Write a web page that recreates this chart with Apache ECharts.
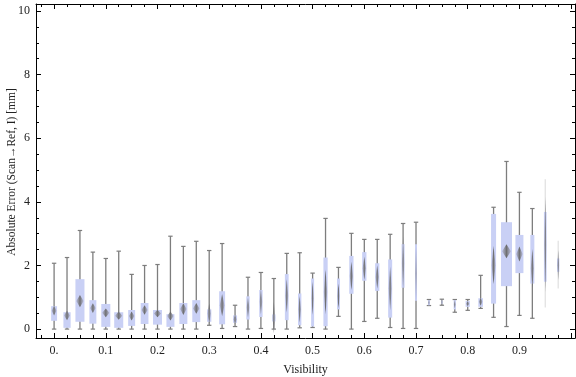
<!DOCTYPE html>
<html><head><meta charset="utf-8">
<script src="https://cdn.jsdelivr.net/npm/echarts@6/dist/echarts.min.js"></script>
<style>html,body{margin:0;padding:0;background:#fff}#c{width:576px;height:377px}</style>
</head><body><div id="c"></div>
<script>
// Bin positions (visibility)
const visibility = [0.000,0.025,0.050,0.075,0.100,0.125,0.150,0.175,0.200,0.225,
                    0.250,0.275,0.300,0.325,0.350,0.375,0.400,0.425,0.450,0.475,
                    0.500,0.525,0.550,0.575,0.600,0.625,0.650,0.675,0.700,0.725,
                    0.750,0.775,0.800,0.825,0.850,0.875,0.900,0.925,0.950,0.975];
const whiskerLow  = [0.00,0.00,0.00,0.00,0.00,0.00,0.00,0.00,0.00,0.00,
                     0.00,0.00,0.12,0.02,0.08,0.00,0.02,0.00,0.00,0.04,
                     0.05,0.00,0.40,0.00,0.24,0.34,0.05,0.02,0.02,0.74,
                     0.75,0.53,0.59,0.65,0.37,0.08,0.43,0.34,0.68,1.28];
const quartile1   = [0.26,0.04,0.23,0.17,0.07,0.04,0.10,0.16,0.14,0.07,
                     0.16,0.22,0.23,0.15,0.20,0.30,0.38,0.24,0.28,0.12,
                     0.08,0.09,0.62,1.11,1.52,1.20,0.36,1.30,0.89,0.75,
                     0.80,0.62,0.70,0.70,0.80,1.35,1.76,1.43,1.49,1.80];
const medians     = [0.58,0.43,0.88,0.66,0.51,0.42,0.41,0.60,0.49,0.41,
                     0.63,0.65,0.49,0.75,0.31,0.68,0.86,0.36,1.05,0.62,
                     0.97,1.17,1.04,1.67,1.91,1.64,1.28,2.07,1.75,0.83,
                     0.85,0.77,0.80,0.86,2.01,2.45,2.36,1.91,2.65,2.01];
const quartile3   = [0.72,0.53,1.57,0.91,0.79,0.53,0.60,0.82,0.60,0.47,
                     0.82,0.91,0.62,1.19,0.43,1.03,1.23,0.46,1.73,1.12,
                     1.59,2.25,1.59,2.30,2.42,2.07,2.19,2.67,2.67,0.91,
                     0.90,0.91,0.88,0.97,3.62,3.36,2.96,2.96,3.68,2.22];
const whiskerHigh = [2.07,2.25,3.10,2.42,2.22,2.45,1.72,2.00,2.03,2.92,
                     2.60,2.76,2.47,2.69,0.75,1.63,1.78,1.59,2.38,2.40,
                     1.76,3.48,1.94,3.01,2.82,2.82,2.98,3.32,3.36,0.93,
                     0.94,0.93,0.93,1.69,3.83,5.27,4.30,3.79,4.71,2.78];
// relative box width (sample weight) as fraction of the bin
const sampleWeight = [0.46,0.56,0.70,0.54,0.70,0.70,0.54,0.60,0.70,0.62,
                      0.62,0.62,0.33,0.46,0.31,0.26,0.26,0.26,0.29,0.26,
                      0.23,0.33,0.23,0.33,0.33,0.33,0.31,0.23,0.15,0.15,
                      0.12,0.18,0.33,0.36,0.39,0.85,0.62,0.31,0.21,0.18];
// median confidence interval height (diamond)
const medianCI = [0.30,0.30,0.38,0.31,0.28,0.26,0.28,0.30,0.23,0.28,
                  0.37,0.34,0.63,0.70,0.30,0.63,0.80,1.00,1.05,0.84,
                  1.05,1.40,0.78,0.90,0.73,0.73,1.36,1.68,1.68,0.15,
                  0.15,0.25,0.15,0.25,1.20,0.44,0.47,1.22,3.00,0.95];
const lowCount = [0,0,0,0,0,0,0,0,0,0, 0,0,0,0,0,0,0,0,0,0,
                  0,0,0,0,0,0,0,0,0,0, 0,0,0,0,0,0,0,0,1,1];
const xTickLabels = ['0.','0.1','0.2','0.3','0.4','0.5','0.6','0.7','0.8','0.9'];
const yTickLabels = ['0','2','4','6','8','10'];
const yTitle = 'Absolute Error (Scan\u2192Ref, I) [mm]';

const binStep = 0.025;
const data = visibility.map((v,i)=>[v, whiskerLow[i], quartile1[i], medians[i], quartile3[i], whiskerHigh[i], sampleWeight[i], medianCI[i], lowCount[i]]);

const FONT = '"Liberation Serif","DejaVu Serif",serif';
const chart = echarts.init(document.getElementById('c'), null, {renderer:'canvas'});

function xFmt(v){
  const k = Math.round(v*10);
  if (Math.abs(v*10 - k) > 1e-6 || k < 0 || k >= xTickLabels.length) return '';
  return xTickLabels[k];
}
function yFmt(v){
  const k = Math.round(v/2);
  if (Math.abs(v/2 - k) > 1e-6 || k < 0 || k >= yTickLabels.length) return '';
  return yTickLabels[k];
}

function tick(){ return {inside:true, length:5, lineStyle:{color:'#000', width:1}}; }
function minor(){ return {show:true, splitNumber:4, length:3, lineStyle:{color:'#000', width:1}}; }

chart.setOption({
  animation:false,
  backgroundColor:'#fff',
  grid:{left:36, right:1, top:4, bottom:39, containLabel:false, outerBoundsMode:'none'},
  graphic:[{
    type:'text', x:12, y:172, rotation:Math.PI/2,
    style:{text:yTitle, font:'11.5px "Liberation Serif", serif', fill:'#222', textAlign:'center', textVerticalAlign:'middle'}
  }],
  xAxis:[
    {type:'value', min:-0.035, max:1.0075, position:'bottom', splitNumber:10,
     axisLine:{show:true, onZero:false, lineStyle:{color:'#000', width:1}},
     axisTick:tick(), minorTick:minor(),
     splitLine:{show:false},
     axisLabel:{formatter:xFmt, showMinLabel:false, showMaxLabel:false, fontFamily:FONT, fontSize:12, color:'#222', margin:7},
     name:'Visibility', nameLocation:'middle', nameGap:26,
     nameTextStyle:{fontFamily:FONT, fontSize:12, color:'#222'}},
    {type:'value', min:-0.035, max:1.0075, position:'top', splitNumber:10,
     axisLine:{show:true, onZero:false, lineStyle:{color:'#000', width:1}},
     axisTick:tick(), minorTick:minor(),
     splitLine:{show:false}, axisLabel:{show:false}}
  ],
  yAxis:[
    {type:'value', min:-0.28, max:10.22, position:'left', splitNumber:5,
     axisLine:{show:true, onZero:false, lineStyle:{color:'#000', width:1}},
     axisTick:tick(), minorTick:minor(),
     splitLine:{show:false},
     axisLabel:{formatter:yFmt, showMinLabel:false, showMaxLabel:false, fontFamily:FONT, fontSize:12, color:'#222', margin:6}},
    {type:'value', min:-0.28, max:10.22, position:'right', splitNumber:5,
     axisLine:{show:true, onZero:false, lineStyle:{color:'#000', width:1}},
     axisTick:tick(), minorTick:minor(),
     splitLine:{show:false}, axisLabel:{show:false}}
  ],
  series:[{
    type:'custom', xAxisIndex:0, yAxisIndex:0, clip:true,
    data:data,
    renderItem:function(params, api){
      const x = api.value(0);
      const pLo = api.coord([x, api.value(1)]);
      const pQ1 = api.coord([x, api.value(2)]);
      const pMed = api.coord([x, api.value(3)]);
      const pQ3 = api.coord([x, api.value(4)]);
      const pHi = api.coord([x, api.value(5)]);
      const w = api.size([binStep*api.value(6), 0])[0];
      const dh = api.size([0, api.value(7)])[1];
      const faint = api.value(8) === 1;
      const cx = pMed[0];
      const wc = '#7d7d7d';
      const wOp = faint ? 0.22 : 1;
      const capW = 2.2;
      const dw = Math.max(w*0.8, 1.5);
      const children = [
        {type:'line', shape:{x1:cx, y1:pLo[1], x2:cx, y2:pHi[1]}, style:{stroke:wc, lineWidth:1.3, opacity:wOp}},
        {type:'line', shape:{x1:cx-capW, y1:pLo[1], x2:cx+capW, y2:pLo[1]}, style:{stroke:wc, lineWidth:1.2, opacity:faint?0:1}},
        {type:'line', shape:{x1:cx-capW, y1:pHi[1], x2:cx+capW, y2:pHi[1]}, style:{stroke:wc, lineWidth:1.2, opacity:faint?0:1}},
        {type:'rect', shape:{x:cx-w/2, y:pQ3[1], width:w, height:pQ1[1]-pQ3[1]}, style:{fill:'#c9d0f5', stroke:null}},
        {type:'polygon', shape:{points:[[cx, pMed[1]-dh/2],[cx+dw/2, pMed[1]],[cx, pMed[1]+dh/2],[cx-dw/2, pMed[1]]]},
         style:{fill:new echarts.graphic.LinearGradient(0,0,1,0,[
           {offset:0, color:'rgba(140,140,150,0.35)'},
           {offset:0.5, color:'rgba(105,105,105,0.95)'},
           {offset:1, color:'rgba(140,140,150,0.35)'}]), stroke:null}}
      ];
      return {type:'group', children:children};
    }
  }]
});
</script>
</body></html>
